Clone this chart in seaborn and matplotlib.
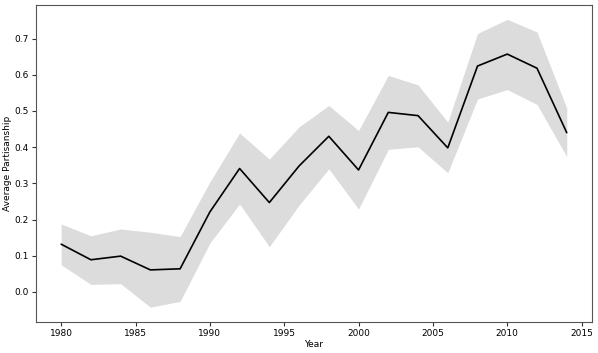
import matplotlib
matplotlib.use("Agg")
import matplotlib.pyplot as plt
import seaborn as sns
import pandas as pd

years = list(range(1980, 2015, 2))
mean_partisanship = [0.132, 0.089, 0.099, 0.061, 0.064, 0.221, 0.341, 0.247, 0.348,
                     0.430, 0.337, 0.496, 0.487, 0.398, 0.624, 0.657, 0.618, 0.440]
upper_bound = [0.188, 0.155, 0.174, 0.165, 0.153, 0.304, 0.439, 0.367, 0.456,
               0.515, 0.446, 0.598, 0.572, 0.469, 0.714, 0.753, 0.718, 0.508]
lower_bound = [0.075, 0.021, 0.023, -0.042, -0.026, 0.135, 0.243, 0.125, 0.240,
               0.340, 0.229, 0.394, 0.401, 0.329, 0.533, 0.559, 0.518, 0.374]

df = pd.DataFrame({'Year': years, 'Mean': mean_partisanship,
                   'Upper': upper_bound, 'Lower': lower_bound})

sns.set_style("ticks", {'text.color': 'black', 'xtick.color': 'black',
                        'ytick.color': 'black', 'axes.labelcolor': 'black'})
plt.rcParams['font.family'] = ['DejaVu Sans']

fig, ax = plt.subplots(figsize=(5.98, 3.53), dpi=100)
fig.subplots_adjust(left=0.06, right=0.99, top=0.986, bottom=0.089)

# confidence band plus mean line
ax.fill_between(df['Year'], df['Lower'], df['Upper'], color='#dcdcdc', linewidth=0)
sns.lineplot(data=df, x='Year', y='Mean', color='black', linewidth=1.2, ax=ax)

ax.set_xlabel('Year', fontsize=6.5, labelpad=2)
ax.set_ylabel('Average Partisanship', fontsize=6.5, labelpad=2)
ax.tick_params(labelsize=6.5, length=3, width=0.8, color='#333333', pad=2)
ax.set_xticks([1980, 1985, 1990, 1995, 2000, 2005, 2010, 2015])
ax.set_yticks([0.0, 0.1, 0.2, 0.3, 0.4, 0.5, 0.6, 0.7])
for s in ax.spines.values():
    s.set_visible(True)
    s.set_color('#555555')
    s.set_linewidth(0.8)

fig.savefig('out.png', dpi=100)
